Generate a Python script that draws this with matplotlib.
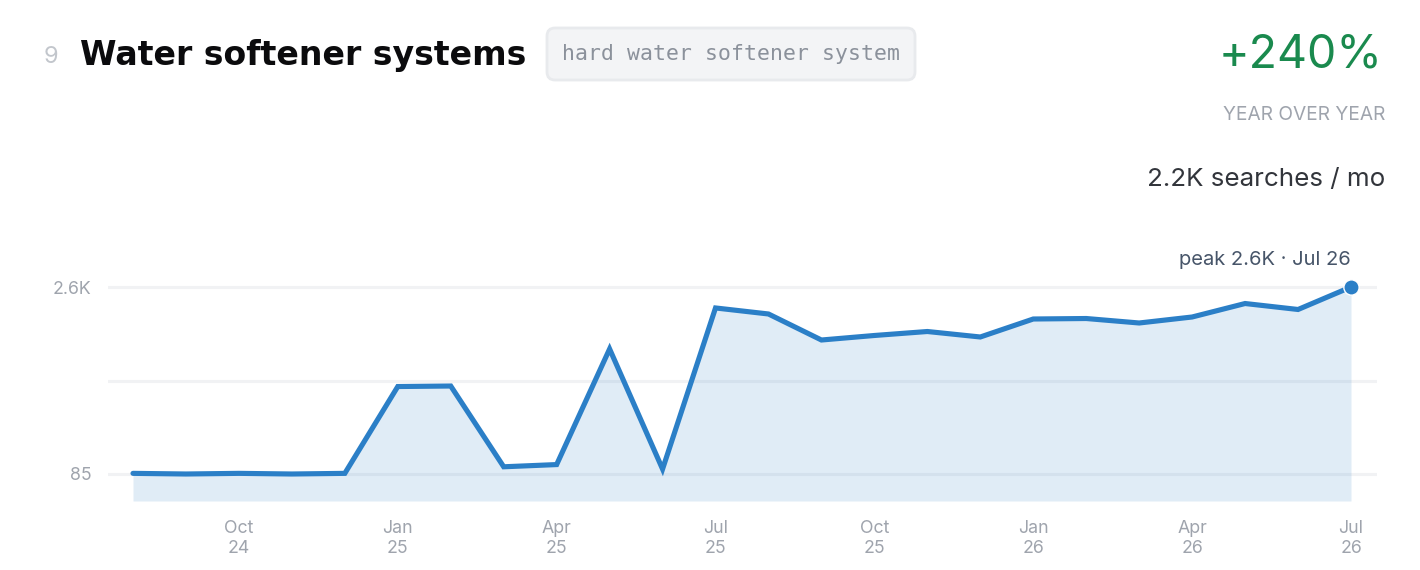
import matplotlib
matplotlib.use('Agg')
import matplotlib.pyplot as plt
from matplotlib.patches import FancyBboxPatch
import numpy as np

plt.rcParams['font.family'] = ['Inter', 'DejaVu Sans']

# Dados (escala log)
meses = ['Aug 24', 'Sep 24', 'Oct 24', 'Nov 24', 'Dec 24', 'Jan 25', 'Feb 25', 'Mar 25',
         'Apr 25', 'May 25', 'Jun 25', 'Jul 25', 'Aug 25', 'Sep 25', 'Oct 25', 'Nov 25',
         'Dec 25', 'Jan 26', 'Feb 26', 'Mar 26', 'Apr 26', 'May 26', 'Jun 26', 'Jul 26']
buscas = [86, 85, 86, 85, 86, 421, 425, 97, 101, 837, 93, 1772, 1587, 986, 1071, 1152,
          1042, 1448, 1461, 1346, 1502, 1922, 1723, 2600]
ticks_x = [2, 5, 8, 11, 14, 17, 20, 23]
labels_x = ['Oct\n24', 'Jan\n25', 'Apr\n25', 'Jul\n25', 'Oct\n25', 'Jan\n26', 'Apr\n26', 'Jul\n26']
grid_y = [85, 470, 2600]
labels_y = ['85', '', '2.6K']

W, H = 1420, 570
AZUL = '#2b7fc7'
CINZA = '#9fa4ad'
fig = plt.figure(figsize=(W / 100, H / 100), dpi=100, facecolor='white')

# Eixo principal, posicionado em pixels
esq, dir_, topo, base = 108, 1377, 277, 501
ax = fig.add_axes([esq / W, 1 - base / H, (dir_ - esq) / W, (base - topo) / H])
passo = (1351 - 133) / 23
ax.set_xlim((esq - 133) / passo, (dir_ - 133) / passo)
k = np.log(2600 / 85) / (474 - 287)
ax.set_yscale('log')
ax.set_ylim(85 * np.exp(-(base - 474) * k), 2600 * np.exp((287 - topo) * k))

x = np.arange(len(meses))
for v in grid_y:
    ax.axhline(v, color='#f1f2f4', lw=2.2, zorder=1)
ax.fill_between(x, buscas, ax.get_ylim()[0], color=AZUL, alpha=0.145, lw=0, zorder=2)
ax.plot(x, buscas, color=AZUL, lw=3.7, solid_capstyle='round', solid_joinstyle='miter', zorder=3)
ax.plot(x[-1], buscas[-1], 'o', ms=11, color=AZUL, mec='white', mew=1, zorder=4, clip_on=False)

for s in ax.spines.values():
    s.set_visible(False)
ax.minorticks_off()
ax.set_yticks(grid_y)
ax.set_yticklabels(labels_y, fontsize=12.8, color=CINZA)
ax.tick_params(axis='y', length=0, pad=12)
ax.set_xticks(ticks_x)
ax.set_xticklabels(labels_x, fontsize=12.8, color=CINZA, linespacing=1.25)
ax.tick_params(axis='x', length=0, pad=13.5)

# Camada de texto em coordenadas de pixel
ov = fig.add_axes([0, 0, 1, 1], facecolor='none')
ov.set_xlim(0, W)
ov.set_ylim(H, 0)
ov.axis('off')

ov.text(58, 63, '9', fontsize=17, color='#c2c6cc', ha='right', va='baseline')
ov.text(80, 65, 'Water softener systems', fontsize=23.9, fontweight='bold', color='#0b0b0d',
        ha='left', va='baseline', family=['DejaVu Sans'])
ov.add_patch(FancyBboxPatch((555, 36), 352, 36, boxstyle='round,pad=8,rounding_size=8',
                            fc='#f3f4f6', ec='#e8eaed', lw=2))
ov.text(731, 60, 'hard water softener system', fontsize=15.5, color='#8b919b',
        ha='center', va='baseline', family=['DejaVu Sans Mono'])
ov.text(1383, 68, '+240%', fontsize=33.5, color='#1a8a4e', ha='right', va='baseline')
ov.text(1385, 120, 'YEAR OVER YEAR', fontsize=13.8, color=CINZA, ha='right', va='baseline')
ov.text(1385, 186, '2.2K searches / mo', fontsize=18.7, color='#32353b', ha='right', va='baseline')
ov.text(1351, 265, 'peak 2.6K · Jul 26', fontsize=14.5, color='#475569', ha='right', va='baseline')

fig.savefig('out.png', dpi=100)
